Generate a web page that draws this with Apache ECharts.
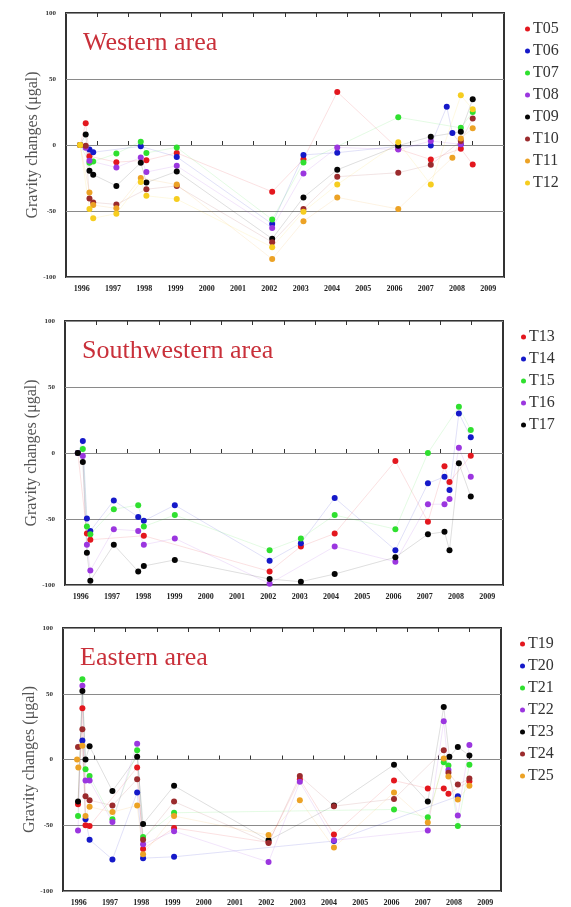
<!DOCTYPE html>
<html>
<head>
<meta charset="utf-8">
<script src="https://cdn.jsdelivr.net/npm/echarts@6.0.0/dist/echarts.min.js"></script>
<style>
  html, body { margin: 0; padding: 0; background: #fff; }
  #main { width: 571px; height: 907px; }
</style>
</head>
<body>
<div id="main"></div>
<script>
// each station: [year, gravity change (μgal)]
// Western area
const T05 = [[1995.95,0],[1996.13,16.5],[1996.25,-8.5],[1997.11,-13],[1998.07,-11.5],[1999.04,-6],[2002.09,-35.4],[2003.09,-10.8],[2004.17,40.2],[2006.12,-3],[2007.16,-11],[2008.12,-2.8],[2008.5,-14.8]]
const T06 = [[1995.95,0],[1996.25,-3.5],[1996.37,-5.5],[1997.89,-1],[1999.04,-9],[2002.09,-59.8],[2003.09,-7.5],[2004.17,-5.8],[2006.12,-1],[2007.16,-0.3],[2007.67,29],[2007.85,9],[2008.12,0.5]]
const T07 = [[1995.95,0],[1996.25,-13.5],[1996.37,-12.5],[1997.11,-6.5],[1997.89,2.5],[1998.07,-6],[1999.04,-1.8],[2002.09,-56.5],[2003.09,-13.3],[2006.12,21],[2008.12,13],[2008.5,25]]
const T08 = [[1995.95,0],[1996.13,-2],[1996.25,-12],[1997.11,-17],[1997.89,-9.5],[1998.07,-20.5],[1999.04,-15.8],[2002.09,-62.8],[2003.09,-21.6],[2004.17,-1.8],[2006.12,-3.5],[2007.16,3],[2008.12,0.5]]
const T09 = [[1995.95,0],[1996.13,8],[1996.25,-19.5],[1996.37,-22.5],[1997.11,-31],[1997.89,-13.5],[1998.07,-28.5],[1999.04,-20],[2002.09,-71],[2003.09,-39.7],[2004.17,-18.8],[2006.12,-0.5],[2007.16,6.3],[2008.12,10],[2008.5,34.6]]
const T10 = [[1995.95,0],[1996.13,-0.5],[1996.25,-40.5],[1996.37,-43.5],[1997.11,-45],[1998.07,-33.5],[1999.04,-31],[2002.09,-73.6],[2003.09,-48.5],[2004.17,-24],[2006.12,-21],[2007.16,-15],[2008.12,3],[2008.5,20]]
const T11 = [[1995.95,0],[1996.25,-36],[1996.37,-45.5],[1997.11,-48],[1997.89,-25],[1999.04,-30],[2002.09,-86.4],[2003.09,-57.8],[2004.17,-39.7],[2006.12,-48.5],[2007.85,-9.6],[2008.12,5],[2008.5,12.6]]
const T12 = [[1995.95,0],[1996.25,-48.5],[1996.37,-55.5],[1997.11,-52],[1997.89,-28],[1998.07,-38.5],[1999.04,-41],[2002.09,-77.4],[2003.09,-50.5],[2004.17,-30],[2006.12,2],[2007.16,-30],[2008.12,37.6],[2008.5,27]]

// Southwestern area
const T13 = [[1995.91,0],[1996.2,-61],[1996.31,-65.7],[1998.02,-62.7],[2002.04,-89.7],[2003.04,-70.8],[2004.12,-61],[2006.06,-6],[2007.1,-52],[2007.63,-10],[2007.79,-22],[2008.47,-2]]
const T14 = [[1995.91,0],[1996.07,9],[1996.2,-49.6],[1996.31,-59],[1997.06,-36],[1997.84,-48.4],[1998.02,-51.4],[1999.01,-39.5],[2002.04,-81.6],[2003.04,-68.3],[2004.12,-34],[2006.06,-73.6],[2007.1,-23],[2007.63,-18],[2007.79,-28],[2008.09,30],[2008.47,12]]
const T15 = [[1995.91,0],[1996.07,3],[1996.2,-55.7],[1996.31,-61.5],[1997.06,-42.6],[1997.84,-39.5],[1998.02,-55.7],[1999.01,-47],[2002.04,-73.6],[2003.04,-64.7],[2004.12,-47],[2006.06,-57.7],[2007.1,0],[2008.09,35],[2008.47,17.4]]
const T16 = [[1995.91,0],[1996.07,-2.3],[1996.2,-69.5],[1996.31,-89],[1997.06,-57.7],[1997.84,-59],[1998.02,-69.5],[1999.01,-64.7],[2002.04,-99],[2004.12,-70.8],[2006.06,-82.4],[2007.1,-38.8],[2007.63,-38.8],[2007.79,-34.8],[2008.09,4],[2008.47,-18]]
const T17 = [[1995.91,0],[1996.07,-6.8],[1996.2,-75.6],[1996.31,-96.7],[1997.06,-69.5],[1997.84,-89.7],[1998.02,-85.6],[1999.01,-81],[2002.04,-95.5],[2003.04,-97.5],[2004.12,-91.7],[2006.06,-79],[2007.1,-61.5],[2007.63,-59.7],[2007.79,-73.6],[2008.09,-7.8],[2008.47,-33]]

// Eastern area
const T19 = [[1995.98,-34],[1996.12,39],[1996.22,-50],[1996.35,-50.5],[1997.87,-6],[1998.06,-68],[1999.05,-52],[2002.07,-63],[2003.07,-15],[2004.16,-57],[2006.08,-16],[2007.16,-22],[2007.67,-22],[2007.82,-26],[2008.49,-16.5]]
const T20 = [[1996.12,14.5],[1996.22,-45.5],[1996.35,-61],[1997.08,-76],[1997.87,-25],[1998.06,-75],[1999.05,-74],[2004.16,-62],[2008.12,-28]]
const T21 = [[1995.98,-43],[1996.12,61],[1996.22,-7.5],[1996.35,-12.5],[1997.08,-45.5],[1997.87,7],[1998.06,-59],[1999.05,-40.5],[2006.08,-38],[2007.16,-44],[2007.67,-2],[2007.82,-4.5],[2008.12,-50.5],[2008.49,-4]]
const T22 = [[1995.98,-54],[1996.12,56],[1996.22,-16],[1996.35,-16],[1997.08,-47.5],[1997.87,12],[1998.06,-64.5],[1999.05,-54.5],[2002.07,-78],[2003.07,-17],[2004.16,-61.5],[2007.16,-54],[2007.67,29],[2007.82,-8],[2008.12,-42.5],[2008.49,11]]
const T23 = [[1995.98,-32],[1996.12,52],[1996.22,0],[1996.35,10],[1997.08,-24],[1997.87,2],[1998.06,-49],[1999.05,-20],[2002.07,-61.5],[2004.16,-35],[2006.08,-4],[2007.16,-32],[2007.67,40],[2007.85,2],[2008.12,9.5],[2008.49,3]]
const T24 = [[1995.98,9.5],[1996.12,23],[1996.22,-28],[1996.35,-31],[1997.08,-35],[1997.87,-15],[1998.06,-61],[1999.05,-32],[2002.07,-63.5],[2003.07,-12.5],[2004.16,-35.5],[2006.08,-30],[2007.67,7],[2007.82,-10],[2008.12,-19],[2008.49,-14.5]]
const T25 = [[1995.95,0],[1995.99,-6],[1996.12,10.5],[1996.22,-43],[1996.35,-36],[1997.08,-40],[1997.87,-35],[1998.06,-72],[1999.05,-43],[2002.07,-57.5],[2003.07,-31],[2004.16,-67],[2006.08,-25],[2007.16,-48],[2007.67,0.8],[2007.82,-13],[2008.12,-30.5],[2008.49,-20]]

const yearLabels = [1996,1997,1998,1999,2000,2001,2002,2003,2004,2005,2006,2007,2008,2009]
const tickYears = [1996.5,1997.5,1998.5,1999.5,2000.5,2001.5,2002.5,2003.5,2004.5,2005.5,2006.5,2007.5,2008.5]

const RED = '#e3171e', BLUE = '#1519c9', GREEN = '#2fe02f', PURPLE = '#9b36df',
  BLACK = '#050505', BROWN = '#9b2b2d', ORANGE = '#eca225', YELLOW = '#f6cd1f'

const panels = [
  { title: 'Western area', names: ['T05','T06','T07','T08','T09','T10','T11','T12'],
    data: [T05,T06,T07,T08,T09,T10,T11,T12],
    colors: [RED,BLUE,GREEN,PURPLE,BLACK,BROWN,ORANGE,YELLOW],
    grid: { left: 66, top: 13, width: 438, height: 264 }, legend: { left: 525, top: 21 } },
  { title: 'Southwestern area', names: ['T13','T14','T15','T16','T17'],
    data: [T13,T14,T15,T16,T17],
    colors: [RED,BLUE,GREEN,PURPLE,BLACK],
    grid: { left: 65, top: 321, width: 438, height: 264 }, legend: { left: 521, top: 329 } },
  { title: 'Eastern area', names: ['T19','T20','T21','T22','T23','T24','T25'],
    data: [T19,T20,T21,T22,T23,T24,T25],
    colors: [RED,BLUE,GREEN,PURPLE,BLACK,BROWN,ORANGE],
    grid: { left: 63, top: 628, width: 438, height: 263 }, legend: { left: 520, top: 636 } }
]

const serif = 'Liberation Serif'
const chart = echarts.init(document.getElementById('main'), null, { renderer: 'canvas' })

const option = {
  backgroundColor: '#fff',
  animation: false,
  title: [], legend: [], grid: [], xAxis: [], yAxis: [], series: []
}

panels.forEach((p, i) => {
  option.grid.push(Object.assign({ show: true, borderColor: '#333', borderWidth: 2, backgroundColor: 'transparent' }, p.grid))
  option.title.push({
    text: p.title, left: p.grid.left + 17, top: p.grid.top + 17, padding: 0,
    textStyle: { fontFamily: serif, fontSize: 26, fontWeight: 'normal', color: '#c9303a' }
  })
  option.legend.push({
    data: p.names, orient: 'vertical', left: p.legend.left, top: p.legend.top,
    padding: 0, itemGap: 6, itemWidth: 5, itemHeight: 5, icon: 'circle',
    textStyle: { fontFamily: serif, fontSize: 16, color: '#333', padding: [0, 0, 0, -2] }
  })
  // bottom axis with labels
  option.xAxis.push({
    type: 'value', gridIndex: i, min: 1995.5, max: 2009.5, position: 'bottom',
    axisLine: { show: false }, splitLine: { show: false },
    axisTick: { show: true, inside: true, length: 4, customValues: tickYears, lineStyle: { color: '#333' } },
    axisLabel: { customValues: yearLabels, formatter: v => String(Math.round(v)),
      fontFamily: serif, fontSize: 8, fontWeight: 'bold', color: '#222', margin: 8 }
  })
  // top axis, ticks only
  option.xAxis.push({
    type: 'value', gridIndex: i, min: 1995.5, max: 2009.5, position: 'top',
    axisLine: { show: false }, splitLine: { show: false },
    axisTick: { show: true, inside: true, length: 4, customValues: tickYears, lineStyle: { color: '#333' } },
    axisLabel: { show: false }
  })
  option.yAxis.push({
    type: 'value', gridIndex: i, min: -100, max: 100, interval: 50,
    name: 'Gravity changes (μgal)', nameLocation: 'middle', nameGap: 25, nameMoveOverlap: false,
    nameTextStyle: { fontFamily: serif, fontSize: 16, color: '#555' },
    axisLine: { show: false }, axisTick: { show: false },
    splitLine: { show: true, lineStyle: { color: '#8a8a8a', width: 1 } },
    axisLabel: { fontFamily: serif, fontSize: 7, fontWeight: 'bold', color: '#333', margin: 10 }
  })
  p.names.forEach((name, k) => {
    option.series.push({
      name, type: 'line', xAxisIndex: i * 2, yAxisIndex: i,
      data: p.data[k], symbol: 'circle', symbolSize: 6, showSymbol: true,
      itemStyle: { color: p.colors[k] },
      lineStyle: { color: p.colors[k], width: 1, opacity: 0.13 }
    })
  })
})

chart.setOption(option)
</script>
</body>
</html>
